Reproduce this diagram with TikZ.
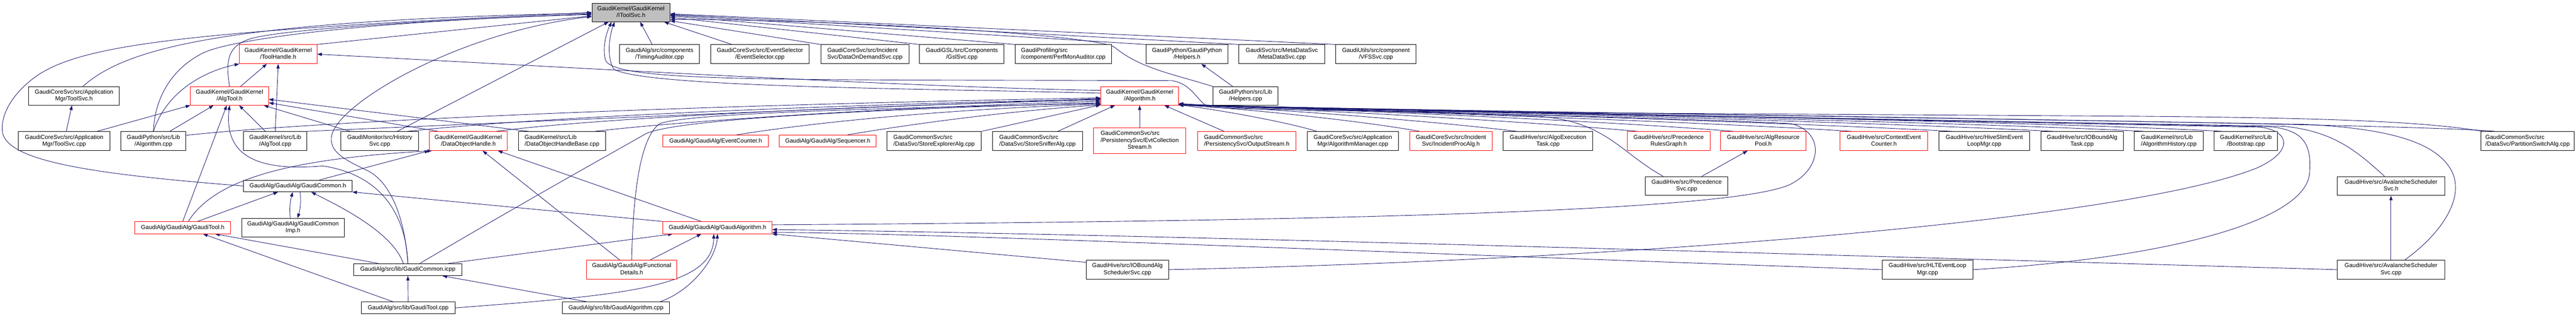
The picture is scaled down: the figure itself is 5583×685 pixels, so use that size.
\documentclass[tikz,border=0pt]{standalone}
\usepackage{fontspec}
\setmainfont{Liberation Sans}
\usetikzlibrary{arrows.meta}
\definecolor{edgecol}{HTML}{191970}
\definecolor{gfill}{HTML}{BFBFBF}
\pgfdeclarelayer{bg}
\pgfsetlayers{bg,main}
\newcommand{\twoln}[2]{\begin{tabular}{@{}l@{}}#1\\\multicolumn{1}{@{}c@{}}{#2}\end{tabular}}
\newcommand{\threeln}[3]{\begin{tabular}{@{}l@{}}#1\\#2\\\multicolumn{1}{@{}c@{}}{#3}\end{tabular}}
\begin{document}
\begin{tikzpicture}[x=1pt,y=-1pt,
  nbox/.style={draw=black, line width=1.1pt, fill=white, inner sep=0pt, minimum height=41pt, font=\fontsize{12.8}{15}\selectfont},
  rbox/.style={nbox, draw=red},
  edg/.style={draw=edgecol, line width=1pt, -{Triangle[length=10pt,width=7pt]}}]
\useasboundingbox (0,0) rectangle (5583,685);
% row 1
\node[nbox, fill=gfill, minimum width=169pt, minimum height=40pt] (itool) at (1367.5,27) {\twoln{GaudiKernel/GaudiKernel}{/IToolSvc.h}};
% row 2
\node[rbox, minimum width=168pt] (toolhandle) at (603,117.5) {\twoln{GaudiKernel/GaudiKernel}{/ToolHandle.h}};
\node[nbox, minimum width=173pt] (timing) at (1429.5,117.5) {\twoln{GaudiAlg/src/components}{/TimingAuditor.cpp}};
\node[nbox, minimum width=214pt] (evsel) at (1647,117.5) {\twoln{GaudiCoreSvc/src/EventSelector}{/EventSelector.cpp}};
\node[nbox, minimum width=191pt] (dod) at (1874.5,117.5) {\twoln{GaudiCoreSvc/src/Incident}{Svc/DataOnDemandSvc.cpp}};
\node[nbox, minimum width=183pt] (gsl) at (2084.5,117.5) {\twoln{GaudiGSL/src/Components}{/GslSvc.cpp}};
\node[nbox, minimum width=209pt] (perfmon) at (2304.5,117.5) {\twoln{GaudiProfiling/src}{/component/PerfMonAuditor.cpp}};
\node[nbox, minimum width=177pt] (helpersh) at (2572.5,117.5) {\twoln{GaudiPython/GaudiPython}{/Helpers.h}};
\node[nbox, minimum width=186pt] (metadata) at (2778,117.5) {\twoln{GaudiSvc/src/MetaDataSvc}{/MetaDataSvc.cpp}};
\node[nbox, minimum width=174pt] (vfs) at (2982,117.5) {\twoln{GaudiUtils/src/component}{/VFSSvc.cpp}};
% row 3
\node[nbox, minimum width=197pt, minimum height=40pt] (toolsvch) at (160.5,208) {\twoln{GaudiCoreSvc/src/Application}{Mgr/ToolSvc.h}};
\node[rbox, minimum width=169pt, minimum height=40pt] (algtoolh) at (497.5,208) {\twoln{GaudiKernel/GaudiKernel}{/AlgTool.h}};
\node[rbox, minimum width=168pt, minimum height=40pt] (algorithmh) at (2470,208) {\twoln{GaudiKernel/GaudiKernel}{/Algorithm.h}};
\node[nbox, minimum width=141pt, minimum height=40pt] (helperscpp) at (2699.5,208) {\twoln{GaudiPython/src/Lib}{/Helpers.cpp}};
% row 4
\node[nbox, minimum width=198pt] (toolsvccpp) at (139,306) {\twoln{GaudiCoreSvc/src/Application}{Mgr/ToolSvc.cpp}};
\node[nbox, minimum width=141pt] (pyalg) at (332.5,306) {\twoln{GaudiPython/src/Lib}{/Algorithm.cpp}};
\node[nbox, minimum width=137pt] (algtoolcpp) at (596.5,306) {\twoln{GaudiKernel/src/Lib}{/AlgTool.cpp}};
\node[nbox, minimum width=168pt] (history) at (823,306) {\twoln{GaudiMonitor/src/History}{Svc.cpp}};
\node[rbox, minimum width=168pt] (dohandle) at (1015,306) {\twoln{GaudiKernel/GaudiKernel}{/DataObjectHandle.h}};
\node[nbox, minimum width=188pt] (dohbase) at (1218,306) {\twoln{GaudiKernel/src/Lib}{/DataObjectHandleBase.cpp}};
\node[rbox, minimum width=228pt, minimum height=26pt] (evcounter) at (1551,306) {GaudiAlg/GaudiAlg/EventCounter.h};
\node[rbox, minimum width=210pt, minimum height=26pt] (sequencer) at (1794,306) {GaudiAlg/GaudiAlg/Sequencer.h};
\node[nbox, minimum width=205pt] (storeexpl) at (2024.5,306) {\twoln{GaudiCommonSvc/src}{/DataSvc/StoreExplorerAlg.cpp}};
\node[nbox, minimum width=195pt] (storesniff) at (2248.5,306) {\twoln{GaudiCommonSvc/src}{/DataSvc/StoreSnifferAlg.cpp}};
\node[rbox, minimum width=200pt, minimum height=55pt] (evtcoll) at (2470,305.5) {\threeln{GaudiCommonSvc/src}{/PersistencySvc/EvtCollection}{Stream.h}};
\node[rbox, minimum width=214pt] (outstream) at (2702,306) {\twoln{GaudiCommonSvc/src}{/PersistencySvc/OutputStream.h}};
\node[nbox, minimum width=198pt] (algmgr) at (2932,306) {\twoln{GaudiCoreSvc/src/Application}{Mgr/AlgorithmManager.cpp}};
\node[rbox, minimum width=179pt] (incproc) at (3144.5,306) {\twoln{GaudiCoreSvc/src/Incident}{Svc/IncidentProcAlg.h}};
\node[nbox, minimum width=194pt] (algoexec) at (3355,306) {\twoln{GaudiHive/src/AlgoExecution}{Task.cpp}};
\node[rbox, minimum width=179pt] (precrules) at (3616.5,306) {\twoln{GaudiHive/src/Precedence}{RulesGraph.h}};
\node[rbox, minimum width=185pt] (algrespool) at (3821.5,306) {\twoln{GaudiHive/src/AlgResource}{Pool.h}};
\node[rbox, minimum width=190pt] (ctxevcount) at (4083,306) {\twoln{GaudiHive/src/ContextEvent}{Counter.h}};
\node[nbox, minimum width=197pt] (hiveslim) at (4300.5,306) {\twoln{GaudiHive/src/HiveSlimEvent}{LoopMgr.cpp}};
\node[nbox, minimum width=179pt] (ioboundtask) at (4512.5,306) {\twoln{GaudiHive/src/IOBoundAlg}{Task.cpp}};
\node[nbox, minimum width=149pt] (alghistory) at (4700.5,306) {\twoln{GaudiKernel/src/Lib}{/AlgorithmHistory.cpp}};
\node[nbox, minimum width=137pt] (bootstrap) at (4867.5,306) {\twoln{GaudiKernel/src/Lib}{/Bootstrap.cpp}};
\node[nbox, minimum width=202pt] (partswitch) at (5478,306) {\twoln{GaudiCommonSvc/src}{/DataSvc/PartitionSwitchAlg.cpp}};
% row 5
\node[nbox, minimum width=235pt, minimum height=25pt] (gcommonh) at (645.5,403.5) {GaudiAlg/GaudiAlg/GaudiCommon.h};
\node[nbox, minimum width=179pt] (precsvc) at (3655.5,403.5) {\twoln{GaudiHive/src/Precedence}{Svc.cpp}};
\node[nbox, minimum width=234pt] (avalh) at (5182,403.5) {\twoln{GaudiHive/src/AvalancheScheduler}{Svc.h}};
% row 6
\node[rbox, minimum width=208pt, minimum height=26pt] (gtoolh) at (396,494) {GaudiAlg/GaudiAlg/GaudiTool.h};
\node[nbox, minimum width=222pt, minimum height=40pt] (gcommonimp) at (635,494) {\twoln{GaudiAlg/GaudiAlg/GaudiCommon}{Imp.h}};
\node[rbox, minimum width=236pt, minimum height=26pt] (galgh) at (1555,494) {GaudiAlg/GaudiAlg/GaudiAlgorithm.h};
% row 7
\node[nbox, minimum width=234pt, minimum height=26pt] (gcicpp) at (884,585) {GaudiAlg/src/lib/GaudiCommon.icpp};
\node[rbox, minimum width=196pt] (funcdet) at (1369,585) {\twoln{GaudiAlg/GaudiAlg/Functional}{Details.h}};
\node[nbox, minimum width=179pt] (ioschedsvc) at (2443.5,585) {\twoln{GaudiHive/src/IOBoundAlg}{SchedulerSvc.cpp}};
\node[nbox, minimum width=197pt] (hltevloop) at (4177.5,585) {\twoln{GaudiHive/src/HLTEventLoop}{Mgr.cpp}};
\node[nbox, minimum width=234pt] (avalcpp) at (5182,585) {\twoln{GaudiHive/src/AvalancheScheduler}{Svc.cpp}};
% row 8
\node[nbox, minimum width=203pt, minimum height=26pt] (gtoolcpp) at (884.5,668) {GaudiAlg/src/lib/GaudiTool.cpp};
\node[nbox, minimum width=232pt, minimum height=26pt] (galgcpp) at (1335,668) {GaudiAlg/src/lib/GaudiAlgorithm.cpp};

\begin{pgfonlayer}{bg}
\fill[white] (0,0) rectangle (5583,685);
% into IToolSvc
\draw[edg] (toolhandle.north east) -- (itool.185);
\draw[edg] ([xshift=19pt]toolsvch.north) .. controls (265,112) and (450,45) .. (itool.181);
\draw[edg] (gcommonh.west) .. controls (200,378) and (22,350) .. (6,290) .. controls (0,255) and (20,215) .. (60,180) .. controls (150,100) and (350,70) .. (itool.180);
\draw[edg] (algtoolh.north) .. controls (488,130) and (495,100) .. (540,85) .. controls (600,65) and (900,45) .. (itool.182);
\draw[edg] (pyalg.north) .. controls (335,215) and (370,150) .. (440,115) .. controls (500,85) and (800,45) .. (itool.183);
\draw[edg] (gcicpp.north) .. controls (878,480) and (850,400) .. (800,372) .. controls (760,352) and (716,335) .. (718,300) .. controls (720,230) and (990,70) .. (itool.186);
\draw[edg] ([xshift=38pt]history.north) -- (itool.203);
\draw[edg] (algorithmh.176) .. controls (2000,192) and (1400,190) .. (1330,150) .. controls (1315,125) and (1320,80) .. (itool.210);
\draw[edg] ([xshift=-98pt]partswitch.north) .. controls (5250,262) and (5000,255) .. (4600,252) .. controls (3500,245) and (2700,242) .. (2620,232) .. controls (2595,222) and (2585,182) .. (2540,175) .. controls (1700,172) and (1330,180) .. (1312,130) .. controls (1305,100) and (1315,70) .. (itool.206);
\draw[edg] (helperscpp.north west) .. controls (2540,160) and (2470,148) .. (2415,102) .. controls (2370,75) and (1800,42) .. (itool.350);
\draw[edg] ([xshift=-16pt]timing.north) -- (itool.314);
\draw[edg] ([xshift=47pt]evsel.north west) -- (itool.344);
\draw[edg] (dod.north west) -- (itool.348);
\draw[edg] (gsl.north west) -- (itool.353);
\draw[edg] (perfmon.north west) -- (itool.355);
\draw[edg] (helpersh.north west) -- (itool.356);
\draw[edg] (metadata.north west) -- (itool.357);
\draw[edg] (vfs.north west) -- (itool.358);
% into ToolHandle.h
\draw[edg] (algtoolh) -- (toolhandle);
\draw[edg] (pyalg.north) .. controls (355,215) and (420,160) .. (toolhandle.south west);
\draw[edg] (algtoolcpp.north) -- (toolhandle.south);
\draw[edg] (algorithmh.172) .. controls (2000,190) and (1300,150) .. (toolhandle.east);
% into ToolSvc.h
\draw[edg] (toolsvccpp) -- (toolsvch);
% into AlgTool.h
\draw[edg] ([xshift=-28pt]toolsvccpp.north east) -- (algtoolh.south west);
\draw[edg] (pyalg) -- (algtoolh);
\draw[edg] (algtoolcpp) -- (algtoolh);
\draw[edg] (gtoolh.north) -- ([xshift=-6pt]algtoolh.south);
\draw[edg] (gcicpp.north) .. controls (880,470) and (830,380) .. (700,360) .. controls (560,372) and (485,340) .. (algtoolh.south);
\draw[edg] ([xshift=20pt]history.north west) -- ([xshift=-11pt]algtoolh.south east);
\draw[edg] ([xshift=19pt]dohandle.north west) -- (algtoolh.350);
\draw[edg] ([xshift=22pt]dohbase.north west) -- (algtoolh.355);
% into Algorithm.h from the left and below
\draw[edg] (pyalg.10) .. controls (700,262) and (1500,228) .. (algorithmh.183);
\draw[edg] (algtoolcpp.north east) .. controls (1000,270) and (1800,235) .. (algorithmh.184);
\draw[edg] ([xshift=-24pt]history.north east) .. controls (1200,250) and (1900,225) .. (algorithmh.185);
\draw[edg] ([xshift=-24pt]dohandle.north east) .. controls (1300,255) and (1900,228) .. (algorithmh.186);
\draw[edg] ([xshift=-23pt]dohbase.north east) .. controls (1500,260) and (2000,230) .. (algorithmh.188);
\draw[edg] ([xshift=26pt]gcicpp.north) .. controls (1150,430) and (1330,330) .. (1400,290) .. controls (1460,262) and (1800,240) .. (algorithmh.190);
\draw[edg] (funcdet.north) .. controls (1372,430) and (1385,300) .. (1430,268) .. controls (1500,245) and (1900,235) .. (algorithmh.191);
\draw[edg] ([xshift=46pt]evcounter.north) .. controls (1800,260) and (2100,235) .. (algorithmh.192);
\draw[edg] ([xshift=43pt]sequencer.north) .. controls (2000,265) and (2200,240) .. (algorithmh.193);
\draw[edg] (storeexpl.north east) -- (algorithmh.193);
\draw[edg] ([xshift=44pt]storesniff.north) -- (algorithmh.201);
\draw[edg] (evtcoll.north) -- (algorithmh.south);
\draw[edg] ([xshift=-49pt]outstream.north) -- (algorithmh.339);
% bundle into Algorithm.h from the right
\draw[edg] ([xshift=-78pt]algmgr.north) .. controls (2790,265) and (2640,238) .. (algorithmh.347);
\draw[edg] ([xshift=-68pt]incproc.north) .. controls (2950,262) and (2700,236) .. (algorithmh.347);
\draw[edg] ([xshift=-68pt]algoexec.north) .. controls (3100,262) and (2760,236) .. (algorithmh.347);
\draw[edg] ([xshift=-68pt]precrules.north) .. controls (3300,262) and (2800,236) .. (algorithmh.347);
\draw[edg] ([xshift=-65pt]algrespool.north) .. controls (3450,260) and (2850,236) .. (algorithmh.347);
\draw[edg] ([xshift=-70pt]ctxevcount.north) .. controls (3650,262) and (2900,238) .. (algorithmh.347);
\draw[edg] ([xshift=-70pt]hiveslim.north) .. controls (3800,262) and (2950,238) .. (algorithmh.347);
\draw[edg] ([xshift=-63pt]ioboundtask.north) .. controls (4000,262) and (3000,238) .. (algorithmh.347);
\draw[edg] ([xshift=-55pt]alghistory.north) .. controls (4200,262) and (3050,240) .. (algorithmh.347);
\draw[edg] ([xshift=-52pt]bootstrap.north) .. controls (4400,262) and (3100,240) .. (algorithmh.347);
\draw[edg] ([xshift=-71pt]partswitch.north) .. controls (5200,266) and (3300,245) .. (algorithmh.347);
\draw[edg] (galgh.3) .. controls (2800,480) and (3750,462) .. (3880,400) .. controls (3950,365) and (3955,285) .. (3880,268) .. controls (3500,250) and (2750,238) .. (algorithmh.349);
\draw[edg] ([xshift=-51pt]precsvc.north) .. controls (3510,330) and (3480,262) .. (3330,252) .. controls (3000,240) and (2700,234) .. (algorithmh.348);
\draw[edg] ([xshift=-14pt]avalh.north) .. controls (5110,330) and (5060,285) .. (4950,274) .. controls (4000,258) and (2800,236) .. (algorithmh.347);
\draw[edg] ([xshift=30pt]avalcpp.north) .. controls (5300,500) and (5345,420) .. (5310,365) .. controls (5270,300) and (5150,278) .. (5000,270) .. controls (4000,252) and (2800,236) .. (algorithmh.348);
\draw[edg] (hltevloop.east) .. controls (4700,560) and (4990,480) .. (5005,380) .. controls (5012,310) and (4990,282) .. (4920,275) .. controls (4000,256) and (2800,236) .. (algorithmh.348);
\draw[edg] (ioschedsvc.east) .. controls (3500,565) and (4600,480) .. (4890,365) .. controls (4970,330) and (4965,285) .. (4900,276) .. controls (4000,258) and (2800,236) .. (algorithmh.348);
% misc
\draw[edg] ([xshift=-28pt]helperscpp.north) -- ([xshift=31pt]helpersh.south);
\draw[edg] ([xshift=33pt]precsvc.north) -- ([xshift=-34pt]algrespool.south);
\draw[edg] (avalcpp.north) -- (avalh.south);
% into DataObjectHandle.h
\draw[edg] ([xshift=47pt]gcommonh.north) -- (dohandle.south west);
\draw[edg] ([xshift=12pt]gtoolh.north) .. controls (465,390) and (620,345) .. ([xshift=6pt]dohandle.south west);
\draw[edg] ([xshift=-35pt]galgh.north) -- ([xshift=64pt]dohandle.south);
\draw[edg] ([xshift=-26pt]funcdet.north) -- ([xshift=31pt]dohandle.south);
% into GaudiCommon.h
\draw[edg] ([xshift=32pt]gtoolh.north) -- ([xshift=-43pt]gcommonh.south);
\draw[edg] ([xshift=-6pt]gcommonimp.north) to[bend left=10] ([xshift=-11pt]gcommonh.south);
\draw[edg] ([xshift=5pt]gcommonh.south) to[bend left=10] ([xshift=10pt]gcommonimp.north);
\draw[edg] ([xshift=-10pt]gcicpp.north) .. controls (850,500) and (720,440) .. ([xshift=29pt]gcommonh.south);
\draw[edg] (galgh.north west) -- (gcommonh.south east);
% into GaudiTool.h
\draw[edg] ([xshift=-64pt]gcicpp.north) -- ([xshift=70pt]gtoolh.south);
\draw[edg] ([xshift=-33pt]gtoolcpp.north) -- ([xshift=44pt]gtoolh.south);
% into GaudiCommon.icpp
\draw[edg] (gtoolcpp.north) -- (gcicpp.south);
\draw[edg] ([xshift=-64pt]galgcpp.north) -- ([xshift=75pt]gcicpp.south);
% into GaudiAlgorithm.h
\draw[edg] (gtoolcpp.east) .. controls (1350,640) and (1545,625) .. ([xshift=-8pt]galgh.south);
\draw[edg] ([xshift=96pt]galgcpp.north) .. controls (1500,630) and (1552,560) .. (galgh.south);
\draw[edg] ([xshift=88pt]gcicpp.north) -- ([xshift=-97pt]galgh.south);
\draw[edg] ([xshift=40pt]funcdet.north) -- ([xshift=-35pt]galgh.south);
\draw[edg] (ioschedsvc.170) -- (galgh.south east);
\draw[edg] (hltevloop.west) .. controls (3000,548) and (2000,505) .. (galgh.355);
\draw[edg] (avalcpp.west) .. controls (4000,555) and (2500,508) .. (galgh.358);
\end{pgfonlayer}
\end{tikzpicture}
\end{document}
